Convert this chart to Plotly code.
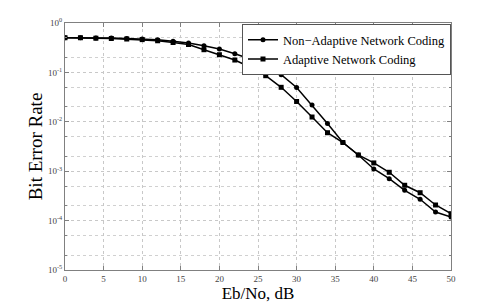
import plotly.graph_objects as go

ebno_db = list(range(0, 51, 2))
non_adaptive_ber = [0.503, 0.503, 0.497, 0.497, 0.485, 0.474, 0.457, 0.427, 0.394, 0.347,
                    0.298, 0.239, 0.187, 0.137, 0.0897, 0.0494, 0.0219, 0.00925, 0.00381,
                    0.00213, 0.00111, 0.000705, 0.000410, 0.000270, 0.000149, 0.000118]
adaptive_ber = [0.503, 0.503, 0.492, 0.485, 0.474, 0.461, 0.437, 0.403, 0.367, 0.288,
                0.228, 0.178, 0.127, 0.0857, 0.0499, 0.0258, 0.0125, 0.00601, 0.00381,
                0.00213, 0.00147, 0.000951, 0.000519, 0.000367, 0.000207, 0.000138]
x_ticks = [0, 5, 10, 15, 20, 25, 30, 35, 40, 45, 50]
y_ticks = [1, 0.1, 0.01, 0.001, 0.0001, 0.00001]
y_tick_labels = ["10<sup>0</sup>", "10<sup>-1</sup>", "10<sup>-2</sup>",
                 "10<sup>-3</sup>", "10<sup>-4</sup>", "10<sup>-5</sup>"]

SERIF = "Liberation Serif"

fig = go.Figure()
fig.add_trace(go.Scatter(x=ebno_db, y=non_adaptive_ber, mode="lines+markers",
                         name="Non\u2212Adaptive Network Coding",
                         line=dict(color="black", width=1.5),
                         marker=dict(symbol="circle", size=5, color="black")))
fig.add_trace(go.Scatter(x=ebno_db, y=adaptive_ber, mode="lines+markers",
                         name="Adaptive Network Coding",
                         line=dict(color="black", width=1.5),
                         marker=dict(symbol="square", size=5, color="black")))

fig.update_layout(
    width=490, height=297,
    margin=dict(l=57, r=47, t=15, b=35, autoexpand=False),
    paper_bgcolor="white", plot_bgcolor="white",
    showlegend=True,
    legend=dict(x=1, y=0.995, xanchor="right", yanchor="top",
                bgcolor="white", bordercolor="#555555", borderwidth=1,
                font=dict(family=SERIF, size=12.5, color="black"),
                itemwidth=30, tracegroupgap=0),
)
fig.update_xaxes(
    range=[0, 50], tickvals=x_ticks, automargin=False,
    showgrid=True, gridcolor="#c8c8c8", griddash="dot", gridwidth=1,
    ticks="inside", ticklen=4, tickcolor="#808080",
    showline=True, linecolor="#808080", linewidth=1, mirror="ticks",
    tickfont=dict(family=SERIF, size=9, color="#444444"),
    title=dict(text="Eb/No, dB", font=dict(family=SERIF, size=17, color="black"), standoff=2),
    zeroline=False,
)
fig.update_yaxes(
    type="log", range=[-5, 0], tickvals=y_ticks, ticktext=y_tick_labels, automargin=False,
    showgrid=True, gridcolor="#c8c8c8", griddash="dot", gridwidth=1,
    minor=dict(showgrid=True, gridcolor="#d0d0d0", griddash="dot", ticks="inside", ticklen=2, tickcolor="#808080"),
    ticks="inside", ticklen=4, tickcolor="#808080",
    showline=True, linecolor="#808080", linewidth=1, mirror="ticks",
    tickfont=dict(family=SERIF, size=9, color="#444444"),
    title=dict(text="Bit Error Rate", font=dict(family=SERIF, size=19, color="black"), standoff=0),
    zeroline=False,
)

fig.write_html("out.html")
